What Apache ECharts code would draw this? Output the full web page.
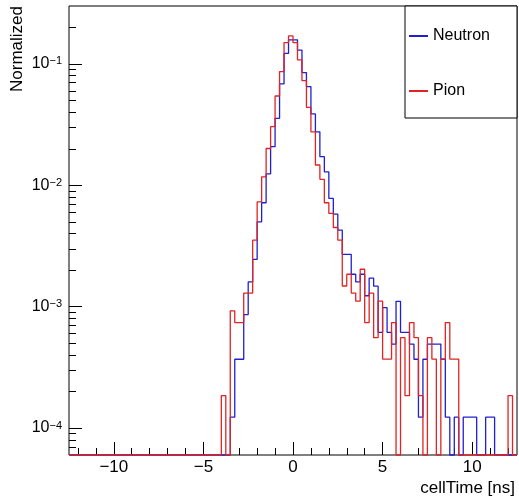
<!DOCTYPE html>
<html><head><meta charset="utf-8">
<script src="https://cdn.jsdelivr.net/npm/echarts@6/dist/echarts.min.js"></script>
<style>html,body{margin:0;padding:0;background:#fff}#c{width:519px;height:496px}</style>
</head><body><div id="c"></div>
<script>
// ---- data ----
const xLow = -12.5, xHigh = 12.5, binWidth = 0.25;   // 100 bins
const yLow = 6.0e-5, yHigh = 0.30;
const seriesNames = ['Neutron', 'Pion'];
const xMajorTicks = [-10, -5, 0, 5, 10];
const xMinorTicks = [-12,-11,-9,-8,-7,-6,-4,-3,-2,-1,1,2,3,4,6,7,8,9,11,12];
const yMajorTicks = [1e-4, 1e-3, 1e-2, 1e-1];
const yMinorTicks = [7e-5,8e-5,9e-5,
  2e-4,3e-4,4e-4,5e-4,6e-4,7e-4,8e-4,9e-4,
  2e-3,3e-3,4e-3,5e-3,6e-3,7e-3,8e-3,9e-3,
  2e-2,3e-2,4e-2,5e-2,6e-2,7e-2,8e-2,9e-2,
  2e-1];
const xTitle = 'cellTime [ns]';
const yTitle = 'Normalized';

const neutron = [
  0,0,0,0,0,0,0,0,0,0,
  0,0,0,0,0,0,0,0,0,0,
  0,0,0,0,0,0,0,0,0,0,
  0,0,0,0,0,0,1.23e-4,3.69e-4,3.69e-4,8.61e-4,
  1.6e-3,2.45e-3,5.0e-3,7.18e-3,1.24e-2,2.08e-2,3.56e-2,6.84e-2,0.122,0.158,
  0.158,0.130,0.0848,0.065,0.0387,0.0276,0.0172,0.0129,0.0078,0.00579,
  0.00427,2.7e-3,2.7e-3,1.85e-3,1.6e-3,1.85e-3,1.23e-3,1.72e-3,1.476e-3,6.15e-4,
  9.84e-4,6.15e-4,4.92e-4,1.107e-3,6.15e-4,6.15e-4,4.92e-4,3.69e-4,1.23e-4,3.69e-4,
  4.92e-4,4.92e-4,4.92e-4,3.69e-4,1.23e-4,0,1.23e-4,0,1.23e-4,1.23e-4,
  1.23e-4,0,0,1.23e-4,1.23e-4,0,0,0,0,0
];
const pion = [
  0,0,0,0,0,0,0,0,0,0,
  0,0,0,0,0,0,0,0,0,0,
  0,0,0,0,0,0,0,0,0,0,
  0,0,0,0,1.85e-4,0,9.25e-4,7.4e-4,7.4e-4,1.295e-3,
  1.295e-3,3.53e-3,7.31e-3,1.175e-2,2.01e-2,3.04e-2,5.44e-2,8.64e-2,0.150,0.170,
  0.150,0.108,0.0728,0.0439,0.0276,0.0147,0.0112,0.00718,0.00586,0.00449,
  0.00353,1.48e-3,1.85e-3,1.295e-3,1.11e-3,2.035e-3,7.4e-4,1.295e-3,5.55e-4,1.11e-3,
  3.7e-4,3.7e-4,7.4e-4,0,5.55e-4,1.85e-4,7.4e-4,5.55e-4,1.85e-4,0,
  5.55e-4,3.7e-4,0,3.7e-4,7.4e-4,3.7e-4,3.7e-4,0,0,0,
  0,0,0,0,0,0,0,0,1.85e-4,0
];

// ---- chart ----
const FONT = '"Liberation Sans", Arial, Helvetica, sans-serif';
const BLUE = '#2020d0', RED = '#e02424';

function histPoints(vals) {
  const pts = [];
  for (let i = 0; i < vals.length; i++) {
    pts.push([xLow + i * binWidth, vals[i] > 0 ? vals[i] : yLow]);
  }
  const last = vals[vals.length - 1];
  pts.push([xLow + vals.length * binWidth, last > 0 ? last : yLow]);
  return pts;
}

const chart = echarts.init(document.getElementById('c'), null, {renderer: 'canvas'});
const baseX = {
  type: 'value', min: xLow, max: xHigh, position: 'bottom',
  axisLine: {show: false, onZero: false}, splitLine: {show: false}
};
const baseY = {
  type: 'log', logBase: 10, min: yLow, max: yHigh, position: 'left',
  axisLine: {show: false, onZero: false}, splitLine: {show: false}
};
chart.setOption({
  animation: false,
  backgroundColor: '#fff',
  grid: {left: 69, top: 6, right: 2, bottom: 41, show: true,
         borderColor: '#000', borderWidth: 1, backgroundColor: 'transparent'},
  xAxis: [
    Object.assign({}, baseX, {
      axisTick: {show: true, inside: true, length: 13, customValues: xMajorTicks,
                 lineStyle: {color: '#000', width: 1}},
      axisLabel: {show: true, customValues: xMajorTicks, margin: 4,
                  formatter: v => (v < 0 ? '\u2212' + (-v) : String(v)),
                  fontSize: 17, fontFamily: FONT, color: '#000'}
    }),
    Object.assign({}, baseX, {
      axisTick: {show: true, inside: true, length: 7, customValues: xMinorTicks,
                 lineStyle: {color: '#000', width: 1}},
      axisLabel: {show: false}
    })
  ],
  yAxis: [
    Object.assign({}, baseY, {
      axisTick: {show: true, inside: true, length: 13, customValues: yMajorTicks,
                 lineStyle: {color: '#000', width: 1}},
      axisLabel: {show: true, customValues: yMajorTicks, margin: 7,
                  formatter: v => '{b|10}{s|\u2212' + Math.round(-Math.log10(v)) + '}',
                  rich: {
                    b: {fontSize: 16, fontFamily: FONT, color: '#000'},
                    s: {fontSize: 11, fontFamily: FONT, color: '#000', verticalAlign: 'top'}
                  }}
    }),
    Object.assign({}, baseY, {
      axisTick: {show: true, inside: true, length: 7, customValues: yMinorTicks,
                 lineStyle: {color: '#000', width: 1}},
      axisLabel: {show: false}
    })
  ],
  legend: {
    orient: 'vertical', left: 409, top: 26, itemWidth: 19, itemHeight: 2, itemGap: 35,
    icon: 'rect', padding: 0, selectedMode: false, z: 20,
    textStyle: {fontSize: 16, fontFamily: FONT, color: '#000', lineHeight: 20},
    data: seriesNames
  },
  graphic: [
    {type: 'rect', z: 1, shape: {x: 405, y: 6, width: 112, height: 112},
     style: {fill: '#fff', stroke: '#000', lineWidth: 1}},
    {type: 'text', x: 17, y: 6, rotation: Math.PI / 2,
     style: {text: yTitle, fontSize: 17, fontFamily: FONT, fill: '#000',
             align: 'right', verticalAlign: 'middle'}},
    {type: 'text', x: 515, y: 488,
     style: {text: xTitle, fontSize: 17, fontFamily: FONT, fill: '#000',
             align: 'right', verticalAlign: 'middle'}}
  ],
  series: [
    {type: 'line', name: seriesNames[0], data: histPoints(neutron), step: 'end',
     symbol: 'none', clip: false, color: BLUE,
     lineStyle: {color: BLUE, width: 1.3}, z: 3},
    {type: 'line', name: seriesNames[1], data: histPoints(pion), step: 'end',
     symbol: 'none', clip: false, color: RED,
     lineStyle: {color: RED, width: 1.3}, z: 4}
  ]
});
</script>
</body></html>
